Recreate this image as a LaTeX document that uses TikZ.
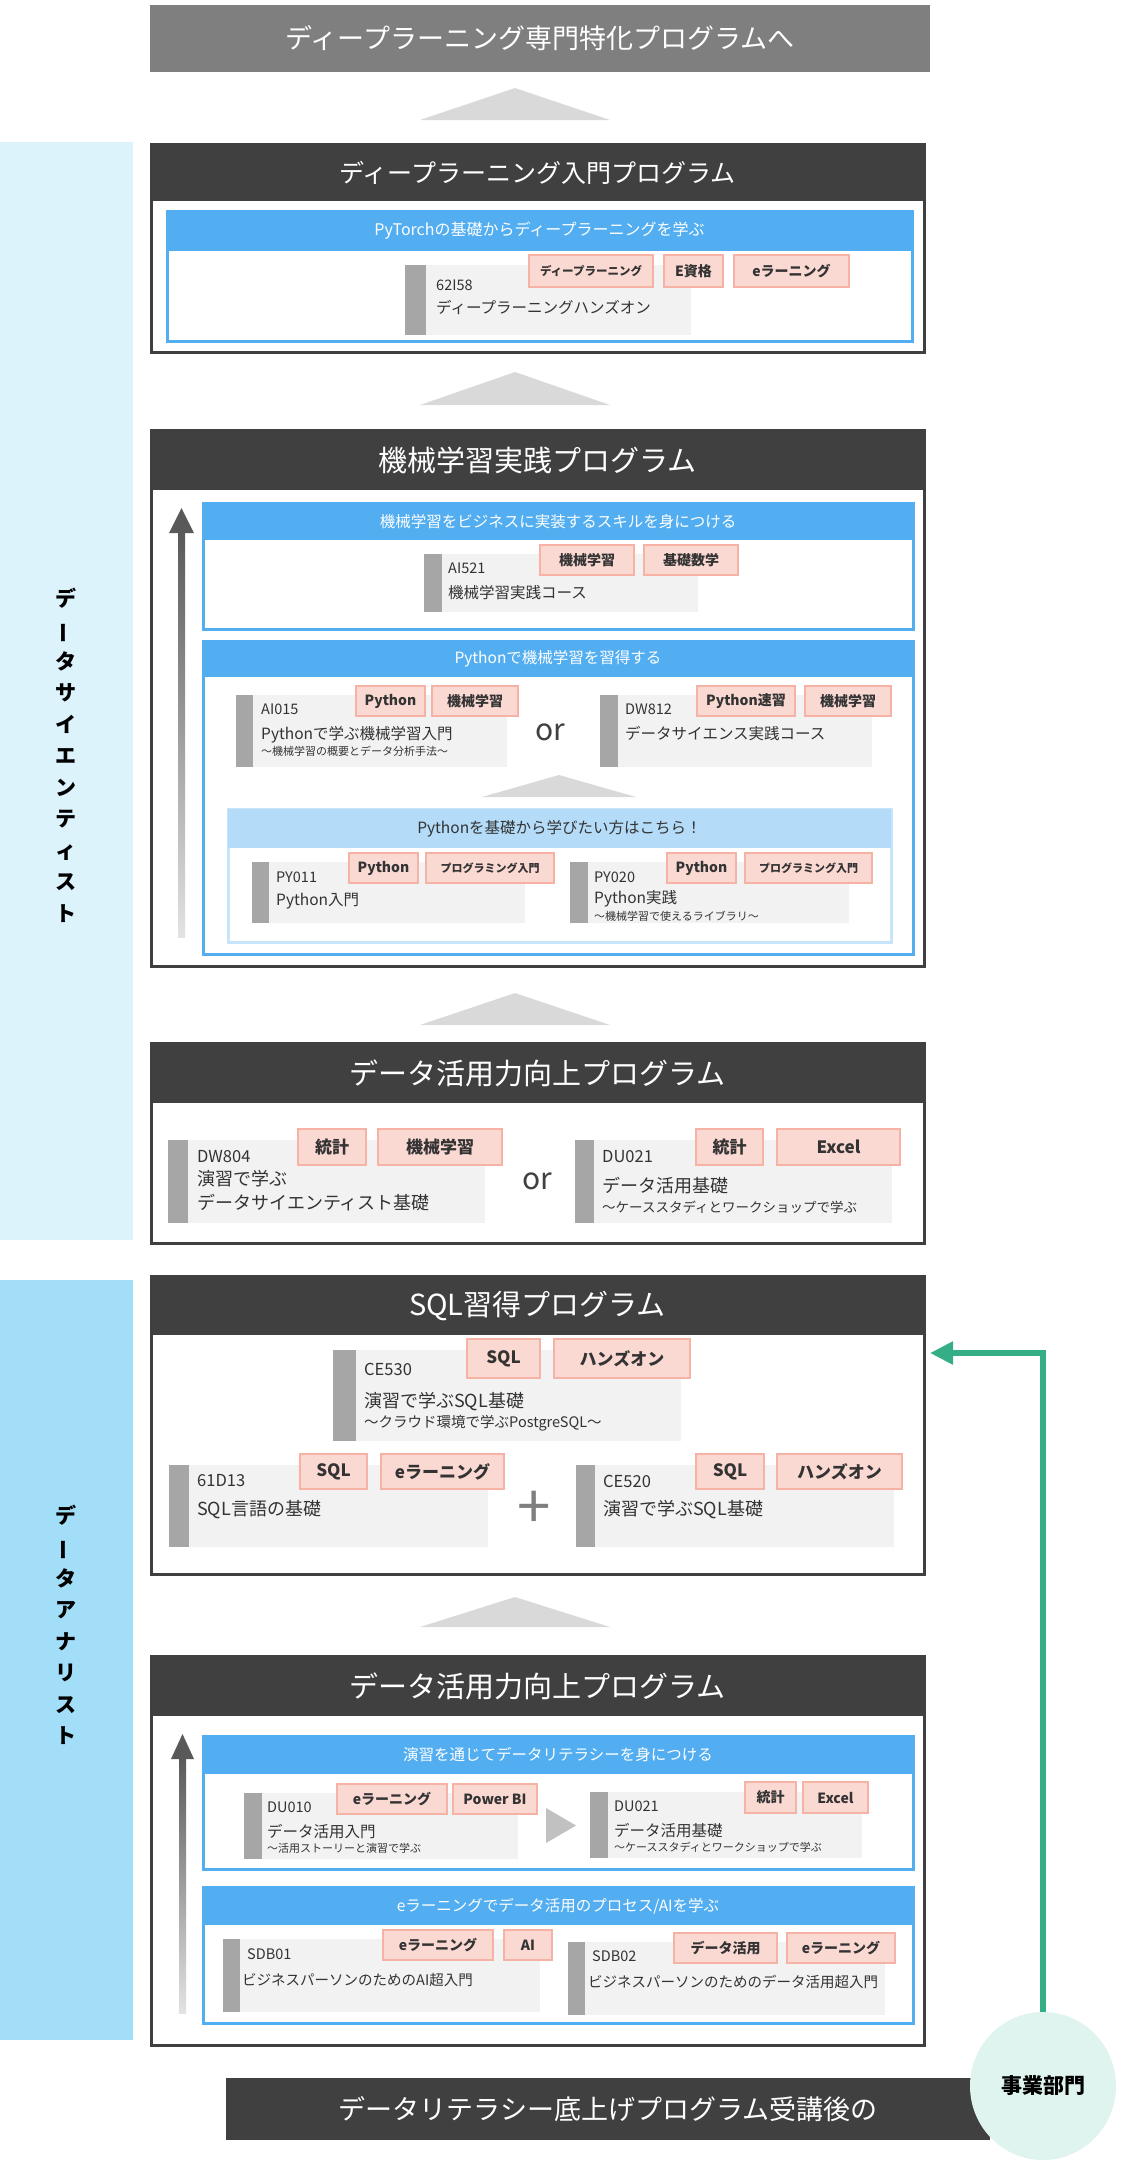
\documentclass[tikz,border=0pt]{standalone}
\usepackage{fontspec}
\setmainfont{Noto Sans CJK JP}
\usetikzlibrary{arrows.meta,shapes.geometric}

\definecolor{hdark}{HTML}{404040}
\definecolor{nextgray}{HTML}{7F7F7F}
\definecolor{trigray}{HTML}{D9D9D9}
\definecolor{sideA}{HTML}{DDF3FB}
\definecolor{sideB}{HTML}{A3DEF8}
\definecolor{bluehd}{HTML}{52AEF1}
\definecolor{lighthd}{HTML}{B4DBF8}
\definecolor{lightln}{HTML}{C6E5FB}
\definecolor{coursebg}{HTML}{F2F2F2}
\definecolor{bargray}{HTML}{A6A6A6}
\definecolor{tagfill}{HTML}{FBD9D3}
\definecolor{tagline}{HTML}{F6B3A5}
\definecolor{txt}{HTML}{333333}
\definecolor{bizgreen}{HTML}{35AD87}
\definecolor{bizfill}{HTML}{DFF4EE}
\definecolor{arrowtop}{HTML}{595959}
\definecolor{arrowbot}{HTML}{E3E3E3}

\newcommand\tatebar{\rotatebox[origin=c]{90}{ー}}

\tikzset{
  box/.style={anchor=north west, inner sep=0pt, outer sep=0pt},
  nexttitle/.style={box, fill=nextgray, text=white, font=\fontsize{27}{29}\selectfont},
  steptri/.style={fill=trigray},
  sidebar/.style={box},
  sidetext/.style={align=center, inner sep=0pt, text=black, font=\bfseries\fontsize{21}{31.5}\selectfont},
  progbox/.style={box, draw=hdark, line width=3pt, fill=white},
  proghead/.style={box, fill=hdark, text=white, font=\fontsize{29}{31}\selectfont},
  bluebox/.style={box, draw=bluehd, line width=3pt, fill=white},
  bluehead/.style={box, fill=bluehd, text=white, font=\fontsize{15.5}{17}\selectfont},
  lightbox/.style={box, draw=lightln, line width=3pt, fill=white},
  lighthead/.style={box, fill=lighthd, text=txt, font=\fontsize{15.5}{17}\selectfont},
  course/.style={box, fill=coursebg},
  coursebar/.style={box, fill=bargray, minimum width=18},
  tag/.style={box, fill=tagfill, draw=tagline, line width=1.5pt, text=txt, font=\bfseries\fontsize{14}{16}\selectfont},
  bigtag/.style={tag, font=\bfseries\fontsize{17}{19}\selectfont},
  code/.style={anchor=west, inner sep=0pt, text=txt, font=\fontsize{14.5}{16}\selectfont},
  ctitle/.style={anchor=west, inner sep=0pt, text=txt, font=\fontsize{15.5}{18}\selectfont},
  csub/.style={anchor=west, inner sep=0pt, text=txt, font=\fontsize{11}{13}\selectfont},
  bigcode/.style={code, font=\fontsize{16.5}{18}\selectfont},
  bigtitle/.style={anchor=west, inner sep=0pt, text=txt, align=left, font=\fontsize{18}{24.5}\selectfont},
  bigsub/.style={csub, font=\fontsize{13.5}{15}\selectfont},
  ortext/.style={inner sep=0pt, text=hdark, font=\fontsize{30}{32}\selectfont},
  gotoarrow/.style={draw=bizgreen, line width=5.5pt, -{Triangle[length=23pt,width=22pt]}},
}

\begin{document}
\begin{tikzpicture}[x=1pt, y=-1pt]
    \useasboundingbox (0,0) rectangle (1132,2169);
    % side bands
    \node[sidebar, fill=sideA, minimum width=133, minimum height=1098] (dsside) at (0,142) {};
    \node[sidebar, fill=sideB, minimum width=133, minimum height=760] (daside) at (0,1280) {};
    \node[sidetext] (dslabel) at (66,755) {デ\\\tatebar\\タ\\サ\\イ\\エ\\ン\\テ\\ィ\\ス\\ト};
    \node[sidetext] (dalabel) at (66,1625) {デ\\\tatebar\\タ\\ア\\ナ\\リ\\ス\\ト};

    % next step
    \node[nexttitle, minimum width=780, minimum height=67] (next) at (150,5) {ディープラーニング専門特化プログラムへ};
    \fill[steptri] (515,88) -- (610,120) -- (420,120) -- cycle;

    % deep learning intro
    \node[progbox, minimum width=773, minimum height=208] (dl) at (151,144) {};
    \node[proghead, minimum width=773, minimum height=57, font=\fontsize{25}{27}\selectfont] (dlhead) at (151,144) {ディープラーニング入門プログラム};
    \node[bluebox, minimum width=745, minimum height=130] (dlblue) at (167,211) {};
    \node[bluehead, minimum width=745, minimum height=40, font=\fontsize{16}{18}\selectfont] (dlbluehead) at (167,211) {PyTorchの基礎からディープラーニングを学ぶ};
    \node[course, minimum width=286, minimum height=70] (c62i58) at (405,265) {};
    \node[coursebar, minimum width=21, minimum height=70] (c62i58bar) at (405,265) {};
    \node[code] (c62i58code) at (436,285) {62I58};
    \node[ctitle] (c62i58title) at (436,307) {ディープラーニングハンズオン};
    \node[tag, minimum width=124, minimum height=32, font=\bfseries\fontsize{11.5}{13}\selectfont] (c62i58tagA) at (529,255) {ディープラーニング};
    \node[tag, minimum width=59, minimum height=32] (c62i58tagB) at (664,255) {E資格};
    \node[tag, minimum width=115, minimum height=32] (c62i58tagC) at (734,255) {eラーニング};

    \fill[steptri] (515,372) -- (610,405) -- (420,405) -- cycle;

    % machine learning practice
    \node[progbox, minimum width=773, minimum height=536] (ml) at (151,430) {};
    \node[proghead, minimum width=773, minimum height=60] (mlhead) at (151,430) {機械学習実践プログラム};
    \shade[top color=arrowtop, bottom color=arrowbot] (178,532) rectangle (185,937);
    \fill[arrowtop] (169,533) -- (181.5,508) -- (194,533) -- cycle;
    \node[bluebox, minimum width=710, minimum height=126] (mlbizblue) at (203,503) {};
    \node[bluehead, minimum width=710, minimum height=37] (mlbizhead) at (203,503) {機械学習をビジネスに実装するスキルを身につける};
    \node[course, minimum width=274, minimum height=58] (ai521) at (424,554) {};
    \node[coursebar, minimum height=58] (ai521bar) at (424,554) {};
    \node[code] (ai521code) at (448,568) {AI521};
    \node[ctitle] (ai521title) at (448,593) {機械学習実践コース};
    \node[tag, minimum width=94, minimum height=30] (ai521tagA) at (540,545) {機械学習};
    \node[tag, minimum width=94, minimum height=30] (ai521tagB) at (644,545) {基礎数学};

    \node[bluebox, minimum width=710, minimum height=313] (mlpyblue) at (203,641) {};
    \node[bluehead, minimum width=710, minimum height=36] (mlpyhead) at (203,641) {Pythonで機械学習を習得する};
    \node[course, minimum width=271, minimum height=72] (ai015) at (236,695) {};
    \node[coursebar, minimum width=17, minimum height=72] (ai015bar) at (236,695) {};
    \node[code] (ai015code) at (261,709) {AI015};
    \node[ctitle] (ai015title) at (261,735) {Pythonで学ぶ機械学習入門};
    \node[csub] (ai015sub) at (261,751) {〜機械学習の概要とデータ分析手法〜};
    \node[tag, minimum width=69, minimum height=30] (ai015tagA) at (356,686) {Python};
    \node[tag, minimum width=86, minimum height=30] (ai015tagB) at (432,686) {機械学習};
    \node[ortext] (mlor) at (550,732) {or};
    \node[course, minimum width=272, minimum height=72] (dw812) at (600,695) {};
    \node[coursebar, minimum height=72] (dw812bar) at (600,695) {};
    \node[code] (dw812code) at (625,709) {DW812};
    \node[ctitle] (dw812title) at (625,734) {データサイエンス実践コース};
    \node[tag, minimum width=98, minimum height=30] (dw812tagA) at (697,686) {Python速習};
    \node[tag, minimum width=86, minimum height=30] (dw812tagB) at (805,686) {機械学習};

    \fill[steptri] (559,775) -- (636,797) -- (482,797) -- cycle;

    \node[lightbox, minimum width=663, minimum height=133] (pybase) at (228,809) {};
    \node[lighthead, minimum width=663, minimum height=39] (pybasehead) at (228,809) {Pythonを基礎から学びたい方はこちら！};
    \node[course, minimum width=273, minimum height=61] (py011) at (252,862) {};
    \node[coursebar, minimum width=17, minimum height=61] (py011bar) at (252,862) {};
    \node[code] (py011code) at (276,877) {PY011};
    \node[ctitle] (py011title) at (276,901) {Python入門};
    \node[tag, minimum width=69, minimum height=30] (py011tagA) at (349,853) {Python};
    \node[tag, minimum width=128, minimum height=30, font=\bfseries\fontsize{11}{13}\selectfont] (py011tagB) at (426,853) {プログラミング入門};
    \node[course, minimum width=279, minimum height=61] (py020) at (570,862) {};
    \node[coursebar, minimum height=61] (py020bar) at (570,862) {};
    \node[code] (py020code) at (594,877) {PY020};
    \node[ctitle] (py020title) at (594,899) {Python実践};
    \node[csub] (py020sub) at (594,916) {〜機械学習で使えるライブラリ〜};
    \node[tag, minimum width=69, minimum height=30] (py020tagA) at (667,853) {Python};
    \node[tag, minimum width=127, minimum height=30, font=\bfseries\fontsize{11}{13}\selectfont] (py020tagB) at (745,853) {プログラミング入門};

    \fill[steptri] (515,993) -- (610,1025) -- (420,1025) -- cycle;

    % data use, upper
    \node[progbox, minimum width=773, minimum height=200] (daup) at (151,1043) {};
    \node[proghead, minimum width=773, minimum height=60] (dauphead) at (151,1043) {データ活用力向上プログラム};
    \node[course, minimum width=317, minimum height=83] (dw804) at (168,1140) {};
    \node[coursebar, minimum width=20, minimum height=83] (dw804bar) at (168,1140) {};
    \node[bigcode] (dw804code) at (197,1157) {DW804};
    \node[bigtitle, anchor=north west] (dw804title) at (197,1170) {演習で学ぶ\\データサイエンティスト基礎};
    \node[bigtag, minimum width=68, minimum height=36] (dw804tagA) at (298,1129) {統計};
    \node[bigtag, minimum width=124, minimum height=36] (dw804tagB) at (378,1129) {機械学習};
    \node[ortext] (dauor) at (537,1181) {or};
    \node[course, minimum width=317, minimum height=83] (du021up) at (575,1140) {};
    \node[coursebar, minimum width=19, minimum height=83] (du021upbar) at (575,1140) {};
    \node[bigcode] (du021upcode) at (602,1157) {DU021};
    \node[bigtitle] (du021uptitle) at (602,1186) {データ活用基礎};
    \node[bigsub] (du021upsub) at (602,1207) {〜ケーススタディとワークショップで学ぶ};
    \node[bigtag, minimum width=67, minimum height=36] (du021uptagA) at (696,1129) {統計};
    \node[bigtag, minimum width=123, minimum height=36] (du021uptagB) at (777,1129) {Excel};

    % SQL
    \node[progbox, minimum width=773, minimum height=298] (sql) at (151,1276) {};
    \node[proghead, minimum width=773, minimum height=59] (sqlhead) at (151,1276) {SQL習得プログラム};
    \node[course, minimum width=348, minimum height=91] (ce530) at (333,1350) {};
    \node[coursebar, minimum width=23, minimum height=91] (ce530bar) at (333,1350) {};
    \node[bigcode] (ce530code) at (364,1369) {CE530};
    \node[bigtitle] (ce530title) at (364,1402) {演習で学ぶSQL基礎};
    \node[bigsub, font=\fontsize{14.5}{16}\selectfont] (ce530sub) at (364,1423) {〜クラウド環境で学ぶPostgreSQL〜};
    \node[bigtag, minimum width=73, minimum height=39] (ce530tagA) at (467,1339) {SQL};
    \node[bigtag, minimum width=136, minimum height=39] (ce530tagB) at (554,1339) {ハンズオン};
    \node[course, minimum width=319, minimum height=82] (c61d13) at (169,1465) {};
    \node[coursebar, minimum width=20, minimum height=82] (c61d13bar) at (169,1465) {};
    \node[bigcode] (c61d13code) at (197,1481) {61D13};
    \node[bigtitle] (c61d13title) at (197,1510) {SQL言語の基礎};
    \node[bigtag, minimum width=67, minimum height=35] (c61d13tagA) at (300,1454) {SQL};
    \node[bigtag, minimum width=123, minimum height=35] (c61d13tagB) at (381,1454) {eラーニング};
    \node[ortext, text=nextgray, font=\fontsize{60}{60}\selectfont] (sqlplus) at (534,1510) {+};
    \node[course, minimum width=318, minimum height=82] (ce520) at (576,1465) {};
    \node[coursebar, minimum width=19, minimum height=82] (ce520bar) at (576,1465) {};
    \node[bigcode] (ce520code) at (603,1481) {CE520};
    \node[bigtitle] (ce520title) at (603,1510) {演習で学ぶSQL基礎};
    \node[bigtag, minimum width=68, minimum height=35] (ce520tagA) at (696,1454) {SQL};
    \node[bigtag, minimum width=125, minimum height=35] (ce520tagB) at (777,1454) {ハンズオン};

    \fill[steptri] (515,1597) -- (610,1627) -- (420,1627) -- cycle;

    % data use, lower
    \node[progbox, minimum width=773, minimum height=389] (dalow) at (151,1656) {};
    \node[proghead, minimum width=773, minimum height=60] (dalowhead) at (151,1656) {データ活用力向上プログラム};
    \shade[top color=arrowtop, bottom color=arrowbot] (179,1758) rectangle (186,2013);
    \fill[arrowtop] (171,1759) -- (182.5,1734) -- (194,1759) -- cycle;
    \node[bluebox, minimum width=710, minimum height=133] (daworkblue) at (203,1736) {};
    \node[bluehead, minimum width=710, minimum height=38] (daworkhead) at (203,1736) {演習を通じてデータリテラシーを身につける};
    \node[course, minimum width=274, minimum height=66] (du010) at (244,1793) {};
    \node[coursebar, minimum height=66] (du010bar) at (244,1793) {};
    \node[code] (du010code) at (267,1807) {DU010};
    \node[ctitle] (du010title) at (267,1832) {データ活用入門};
    \node[csub] (du010sub) at (267,1848) {〜活用ストーリーと演習で学ぶ};
    \node[tag, minimum width=110, minimum height=30] (du010tagA) at (337,1784) {eラーニング};
    \node[tag, minimum width=84, minimum height=30] (du010tagB) at (453,1784) {Power BI};
    \fill[bargray!70] (546,1808) -- (576,1825.5) -- (546,1843) -- cycle;
    \node[course, minimum width=272, minimum height=66] (du021low) at (590,1792) {};
    \node[coursebar, minimum height=66] (du021lowbar) at (590,1792) {};
    \node[code] (du021lowcode) at (614,1806) {DU021};
    \node[ctitle] (du021lowtitle) at (614,1831) {データ活用基礎};
    \node[csub] (du021lowsub) at (614,1847) {〜ケーススタディとワークショップで学ぶ};
    \node[tag, minimum width=51, minimum height=31] (du021lowtagA) at (745,1782) {統計};
    \node[tag, minimum width=65, minimum height=31] (du021lowtagB) at (803,1782) {Excel};

    \node[bluebox, minimum width=710, minimum height=136] (daelblue) at (203,1887) {};
    \node[bluehead, minimum width=710, minimum height=38] (daelhead) at (203,1887) {eラーニングでデータ活用のプロセス/AIを学ぶ};
    \node[course, minimum width=317, minimum height=73] (sdb01) at (223,1939) {};
    \node[coursebar, minimum width=17, minimum height=73] (sdb01bar) at (223,1939) {};
    \node[code] (sdb01code) at (247,1954) {SDB01};
    \node[ctitle, font=\fontsize{14.5}{16}\selectfont] (sdb01title) at (242,1980) {ビジネスパーソンのためのAI超入門};
    \node[tag, minimum width=110, minimum height=30] (sdb01tagA) at (383,1930) {eラーニング};
    \node[tag, minimum width=48, minimum height=30] (sdb01tagB) at (504,1930) {AI};
    \node[course, minimum width=317, minimum height=73] (sdb02) at (568,1942) {};
    \node[coursebar, minimum width=17, minimum height=73] (sdb02bar) at (568,1942) {};
    \node[code] (sdb02code) at (592,1956) {SDB02};
    \node[ctitle, font=\fontsize{14.5}{16}\selectfont] (sdb02title) at (588,1982) {ビジネスパーソンのためのデータ活用超入門};
    \node[tag, minimum width=103, minimum height=30] (sdb02tagA) at (674,1933) {データ活用};
    \node[tag, minimum width=108, minimum height=30] (sdb02tagB) at (787,1933) {eラーニング};

    % start
    \node[box, fill=hdark, text=white, minimum width=764, minimum height=62, font=\fontsize{27}{29}\selectfont] (base) at (226,2078) {データリテラシー底上げプログラム受講後の};
    \node[ellipse, fill=bizfill, minimum width=146, minimum height=148, inner sep=0pt, text=black, font=\bfseries\fontsize{21}{23}\selectfont] (biz) at (1043,2086) {事業部門};
    \coordinate (sqlin) at (930,1353);
    \draw[gotoarrow] (biz.north) |- (sqlin);
\end{tikzpicture}
\end{document}
